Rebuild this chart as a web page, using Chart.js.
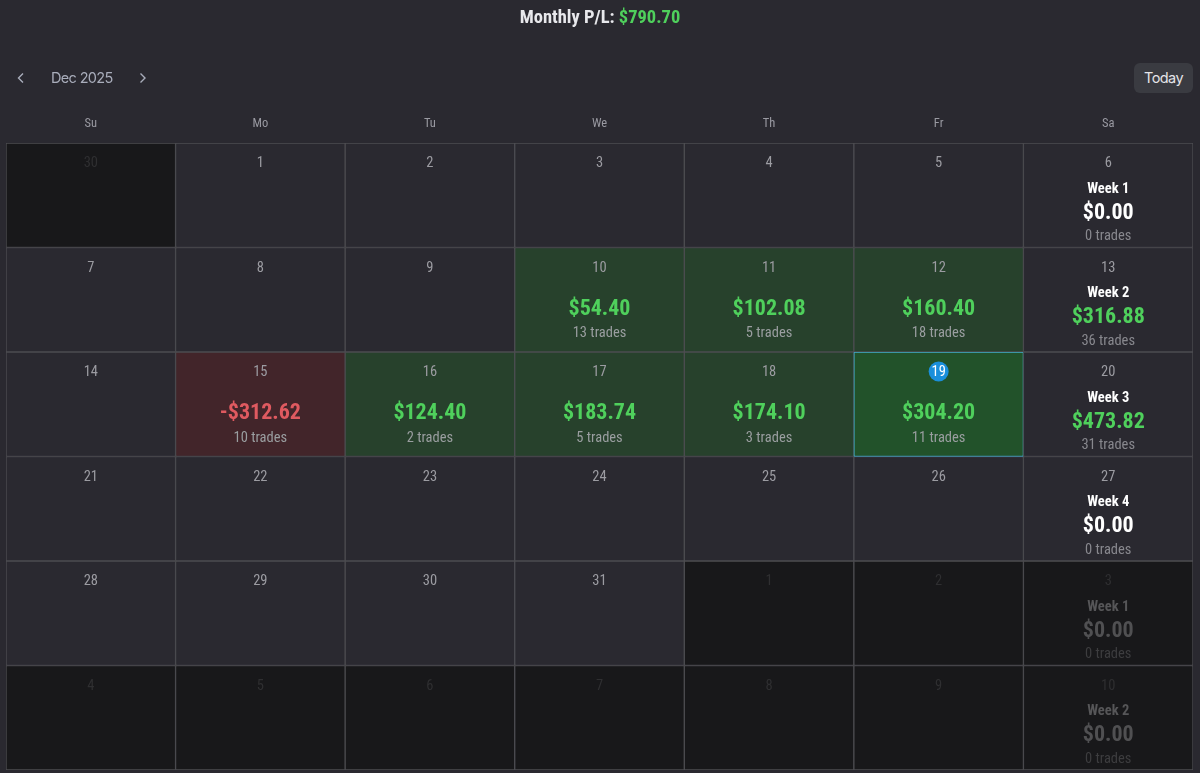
<!DOCTYPE html>
<html>
<head>
<meta charset="utf-8">
<title>Monthly P/L</title>
<script src="https://cdn.jsdelivr.net/npm/chart.js@4/dist/chart.umd.min.js"></script>
<style>
  html, body { margin: 0; padding: 0; background: #2a2930; width: 1200px; height: 773px; overflow: hidden; }
  #wrap { position: relative; width: 1200px; height: 773px; }
  canvas { position: absolute; left: 0; top: 0; }
  .title { position: absolute; left: 0; width: 1200px; top: 6px; text-align: center; font: bold 18.5px Roboto, sans-serif; font-stretch: 75%; color: #e8e8ec; z-index: 2; }
  .title span { color: #4fd05c; }
  .month { position: absolute; left: 51px; top: 69px; font: 14.5px Inter, sans-serif; letter-spacing: -0.65px; color: #a9adbb; z-index: 2; }
  .today { position: absolute; left: 1134px; top: 63px; width: 59px; height: 30px; text-align: center; background: #3a3b41; border-radius: 6px; font: 14.5px/29px Inter, sans-serif; letter-spacing: -0.6px; color: #e4e4e8; z-index: 2; }
  svg { position: absolute; top: 72px; z-index: 2; }
</style>
</head>
<body>
<div id="wrap">
  <div class="title">Monthly P/L: <span>$790.70</span></div>
  <svg style="left:16px" width="10" height="12"><polyline points="7,1.5 2.5,6 7,10.5" fill="none" stroke="#a9adbb" stroke-width="1.4"/></svg>
  <div class="month">Dec 2025</div>
  <svg style="left:138px" width="10" height="12"><polyline points="2.5,1.5 7,6 2.5,10.5" fill="none" stroke="#a9adbb" stroke-width="1.4"/></svg>
  <div class="today">Today</div>
  <canvas id="calendar" width="1200" height="773"></canvas>
</div>
<script>
var weekdays = ['Su', 'Mo', 'Tu', 'We', 'Th', 'Fr', 'Sa'];

var dayNumbers = [
    [30, 1, 2, 3, 4, 5, 6],
    [7, 8, 9, 10, 11, 12, 13],
    [14, 15, 16, 17, 18, 19, 20],
    [21, 22, 23, 24, 25, 26, 27],
    [28, 29, 30, 31, 1, 2, 3],
    [4, 5, 6, 7, 8, 9, 10]
];

// daily P/L, null = no trades that day
var dailyPnl = [
    [null, null, null, null, null, null, null],
    [null, null, null, 54.40, 102.08, 160.40, null],
    [null, -312.62, 124.40, 183.74, 174.10, 304.20, null],
    [null, null, null, null, null, null, null],
    [null, null, null, null, null, null, null],
    [null, null, null, null, null, null, null]
];
var dailyTrades = [
    [null, null, null, null, null, null, null],
    [null, null, null, 13, 5, 18, null],
    [null, 10, 2, 5, 3, 11, null],
    [null, null, null, null, null, null, null],
    [null, null, null, null, null, null, null],
    [null, null, null, null, null, null, null]
];

var weekLabels = ['Week 1', 'Week 2', 'Week 3', 'Week 4', 'Week 1', 'Week 2'];
var weekPnl = [0, 316.88, 473.82, 0, 0, 0];
var weekTrades = [0, 36, 31, 0, 0, 0];

var todayRow = 2, todayCol = 5;

var GREEN = '#4fd05c', RED = '#df5a60';
var FONT = 'Roboto, sans-serif';

function isOutside(r, c) {
    return (r === 0 && dayNumbers[r][c] > 7) || (r >= 4 && dayNumbers[r][c] <= 10);
}

function money(v) {
    return (v < 0 ? '-$' : '$') + Math.abs(v).toFixed(2);
}

function cellColor(r, c) {
    if (isOutside(r, c)) return '#18181a';
    if (r === todayRow && c === todayCol) return '#22522a';
    var v = dailyPnl[r][c];
    if (v === null) return '#2a2930';
    return v < 0 ? '#42252a' : '#27412c';
}

// one floating bar per cell, row by row
var datasets = dayNumbers.map(function (row, r) {
    return {
        data: row.map(function () { return [r, r + 1]; }),
        grouped: false,
        barPercentage: 1,
        categoryPercentage: 1,
        borderSkipped: false,
        borderWidth: 1,
        borderColor: row.map(function (d, c) {
            return (r === todayRow && c === todayCol) ? '#45b4d8' : '#4d4d51';
        }),
        backgroundColor: row.map(function (d, c) { return cellColor(r, c); })
    };
});

// the text of the cells
var cellText = {
    id: 'cellText',
    afterDatasetsDraw: function (chart) {
        var ctx = chart.ctx, xs = chart.scales.x, ys = chart.scales.y;

        function put(text, x, y, font, color) {
            ctx.save();
            ctx.font = font + ' ' + FONT;
            ctx.fontStretch = 'condensed';
            ctx.fillStyle = color;
            ctx.textAlign = 'center';
            ctx.textBaseline = 'middle';
            ctx.fillText(text, x, y);
            ctx.restore();
        }

        dayNumbers.forEach(function (row, r) {
            var top = ys.getPixelForValue(r);
            row.forEach(function (d, c) {
                var x = xs.getPixelForValue(c);
                var out = isOutside(r, c);
                if (r === todayRow && c === todayCol) {
                    ctx.beginPath();
                    ctx.arc(x, top + 19.5, 10, 0, Math.PI * 2);
                    ctx.fillStyle = '#1a8fdb';
                    ctx.fill();
                    put(String(d), x, top + 20.5, '14.5px', '#ffffff');
                } else {
                    put(String(d), x, top + 20.5, '14.5px', out ? '#2f2f31' : '#9c9ca2');
                }
                if (c === 6) {
                    var wp = weekPnl[r];
                    put(weekLabels[r], x, top + 46, 'bold 14.5px', out ? '#565658' : '#ffffff');
                    put(money(wp), x, top + 70, 'bold 22px', out ? '#505052' : (wp > 0 ? GREEN : '#ffffff'));
                    put(weekTrades[r] + ' trades', x, top + 93.5, '14.5px', out ? '#3d3d3f' : '#88888e');
                } else if (dailyPnl[r][c] !== null) {
                    var v = dailyPnl[r][c];
                    put(money(v), x, top + 61.5, 'bold 22px', v < 0 ? RED : GREEN);
                    put(dailyTrades[r][c] + ' trades', x, top + 86, '14.5px', '#9a9ea0');
                }
            });
        });
    }
};

var calendarChart = new Chart(document.getElementById('calendar'), {
    type: 'bar',
    data: { labels: weekdays, datasets: datasets },
    plugins: [cellText],
    options: {
        responsive: false,
        animation: false,
        layout: { padding: { left: 6, right: 7, top: 0, bottom: 3 } },
        plugins: { legend: { display: false }, tooltip: { enabled: false }, title: { display: false } },
        scales: {
            x: {
                position: 'top',
                grid: { display: false },
                border: { display: false },
                ticks: { color: '#9a9aa2', padding: 4, maxRotation: 0, font: { family: FONT, size: 12.5, weight: 'condensed' } },
                afterFit: function (scale) { scale.height = 143; }
            },
            y: { display: false, reverse: true, min: 0, max: 6 }
        }
    }
});
</script>
</body>
</html>
